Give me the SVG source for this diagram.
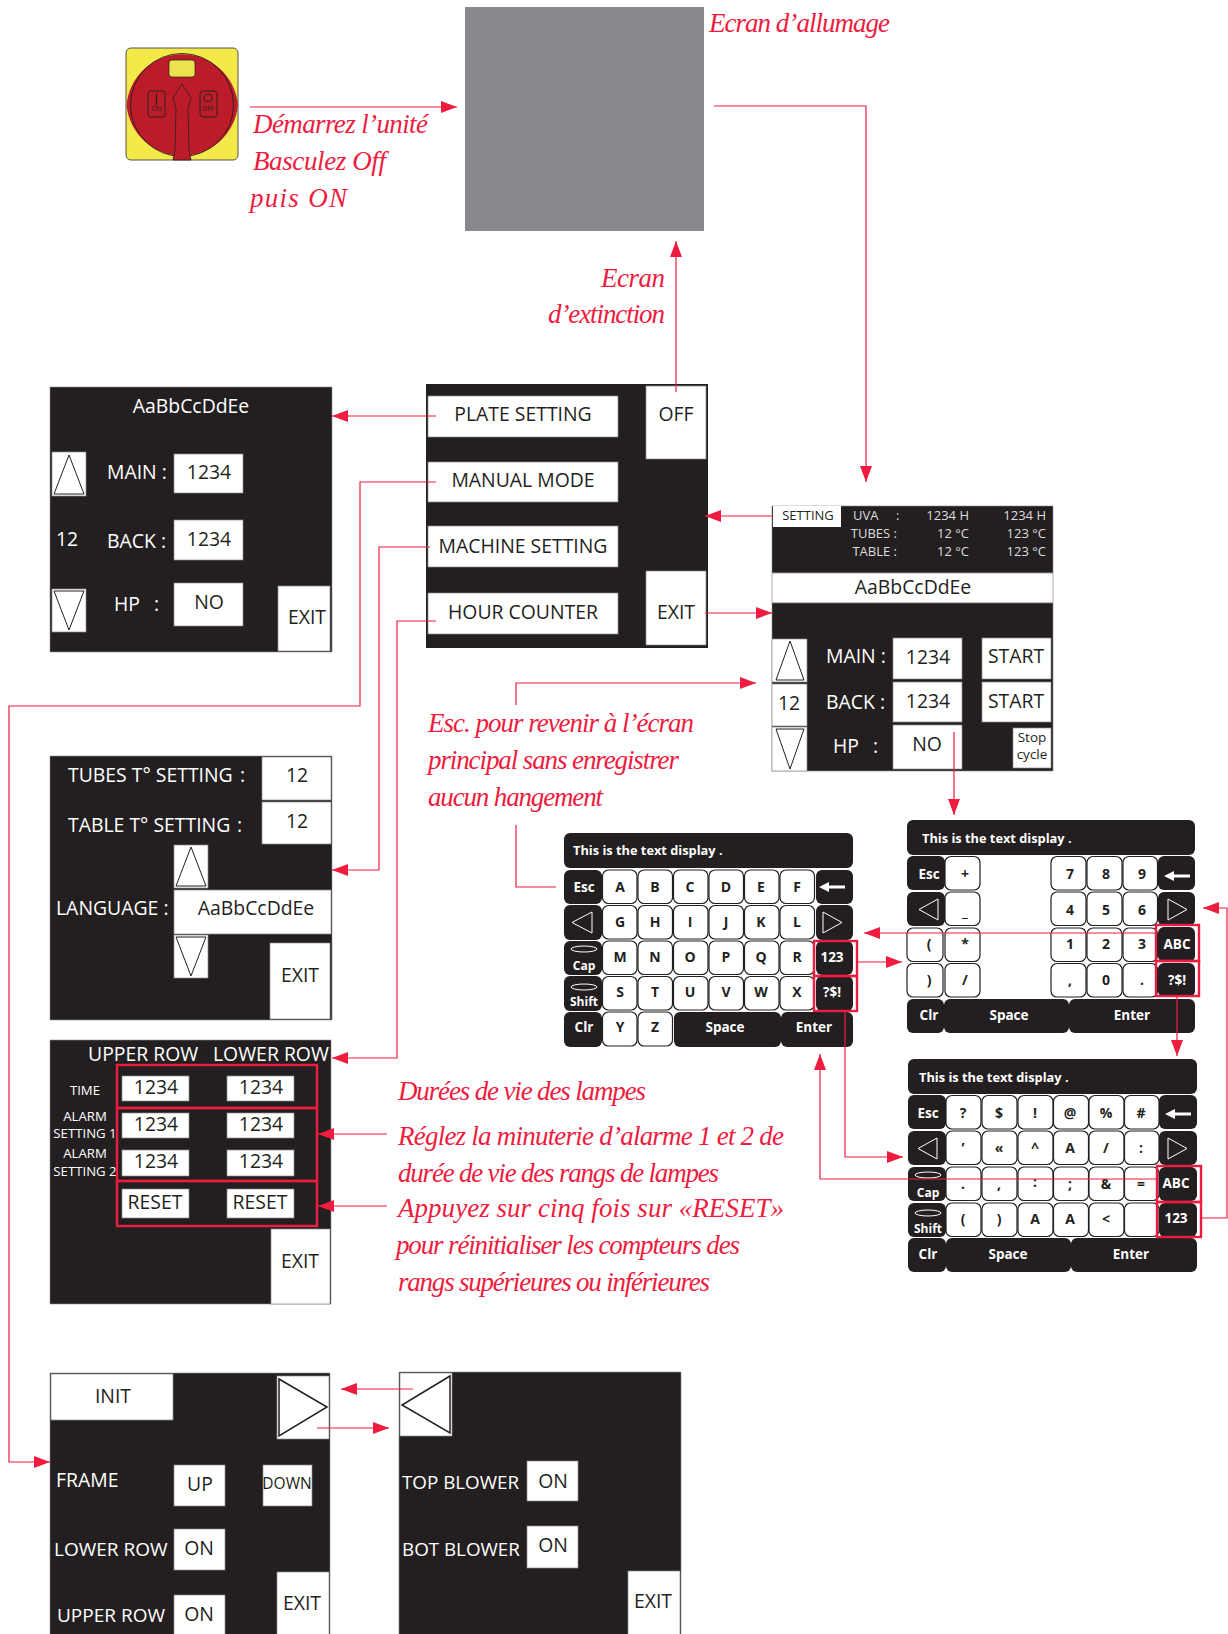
<svg xmlns="http://www.w3.org/2000/svg" width="1228" height="1634" viewBox="0 0 1228 1634">
<defs>
<style>
text{font-family:"Open Sans","Noto Sans","Liberation Sans",sans-serif}
.s{fill:#231f20;stroke:#8a8a8a;stroke-width:.6}
.w{fill:#fff;stroke:#8a8a8a;stroke-width:.7}
.tw{fill:#fff;font-size:19.400px;transform:translateY(-.6px)}
.tb{fill:#231f20;font-size:19.400px;text-anchor:middle;transform:translateY(-.6px)}
.tc{fill:#fff;font-size:19.400px;text-anchor:middle;transform:translateY(-.6px)}
.e{text-anchor:end}
.tri{fill:none;stroke:#231f20;stroke-width:1}
.script{font-family:"Liberation Serif",serif;font-style:italic;fill:#ee1c3e;font-size:27px}
.kb{fill:#231f20}
.kw{fill:#fff;stroke:#231f20;stroke-width:1.2}
.kt{font-size:14px;font-weight:700;fill:#231f20;text-anchor:middle}
.kl{font-size:13.500px;font-weight:700;fill:#fff;text-anchor:middle}
.kd{font-size:12.800px;font-weight:700;fill:#fff}
.ko{fill:none;stroke:#fff;stroke-width:1}
.r{fill:none;stroke:#ee1c3e;stroke-width:2.4}
.c{fill:none;stroke:#ee1c3e;stroke-width:1.2}
</style>
<marker id="a" markerUnits="userSpaceOnUse" markerWidth="17" markerHeight="12" refX="16" refY="6" orient="auto"><path d="M0 0L16 6L0 12Z" fill="#ee1c3e"/></marker>
</defs>
<rect width="1228" height="1634" fill="#fff"/>

<g id="switch">
<rect x="126" y="48" width="112" height="112" rx="5" fill="#f3ea4a" stroke="#555" stroke-width="1"/>
<path d="M126.500 105A56 56 0 0 1 238 105A56 56 0 0 1 126.500 105Z" fill="#bc1c29"/>
<circle cx="182" cy="105" r="51.500" fill="none" stroke="#231f20" stroke-width=".9"/>
<rect x="169" y="60" width="26" height="17" rx="3" fill="#eae34e" stroke="#231f20" stroke-width=".7"/>
<path d="M182 84L191 98L188 108L189 150L191 160H173L175 150L176 108L173 98Z" fill="#bc1c29" stroke="#231f20" stroke-width=".8"/>
<rect x="148" y="91" width="17" height="26" rx="3" fill="none" stroke="#231f20" stroke-width=".9"/>
<rect x="200" y="91" width="17" height="26" rx="3" fill="none" stroke="#231f20" stroke-width=".9"/>
<path d="M156.500 94V105" stroke="#231f20" stroke-width="1.200"/>
<circle cx="208" cy="98" r="4" fill="none" stroke="#231f20" stroke-width=".9"/>
<text x="156.500" y="111" text-anchor="middle" font-size="6.500" fill="#231f20">ON</text>
<text x="208" y="111" text-anchor="middle" font-size="6.500" fill="#231f20">OFF</text>
</g>

<g id="grey-screen"><rect x="465" y="7" width="239" height="224" fill="#87888b"/></g>

<g id="plate-setting">
<rect class="s" x="50" y="387" width="282" height="265"/>
<text class="tc" x="191" y="414">AaBbCcDdEe</text>
<rect class="w" x="52" y="452" width="34" height="44"/><path class="tri" d="M69 455L84 494H54Z"/>
<text class="tw" x="107" y="480">MAIN :</text>
<rect class="w" x="174" y="454" width="69" height="39"/><text class="tb" x="209" y="480">1234</text>
<text class="tw" x="56" y="547">12</text>
<text class="tw" x="107" y="549">BACK :</text>
<rect class="w" x="174" y="520" width="69" height="40"/><text class="tb" x="209" y="547">1234</text>
<rect class="w" x="52" y="589" width="34" height="43"/><path class="tri" d="M54 591H84L69 630Z"/>
<text class="tw" x="114" y="612">HP</text><text class="tw" x="154" y="612">:</text>
<rect class="w" x="174" y="583" width="69" height="43"/><text class="tb" x="209" y="610">NO</text>
<rect class="w" x="278" y="586" width="52" height="65"/><text class="tb" x="307" y="625">EXIT</text>
</g>

<g id="menu">
<rect x="427" y="385" width="280" height="262" fill="#231f20" stroke="#231f20" stroke-width="2"/>
<rect class="w" x="428" y="396" width="190" height="41"/><text class="tb" x="523" y="422">PLATE SETTING</text>
<rect class="w" x="428" y="462" width="190" height="40"/><text class="tb" x="523" y="488">MANUAL MODE</text>
<rect class="w" x="428" y="526" width="190" height="41"/><text class="tb" x="523" y="554">MACHINE SETTING</text>
<rect class="w" x="428" y="593" width="190" height="41"/><text class="tb" x="523" y="620">HOUR COUNTER</text>
<rect class="w" x="646" y="386" width="60" height="73"/><text class="tb" x="676" y="422">OFF</text>
<rect class="w" x="646" y="571" width="60" height="74"/><text class="tb" x="676" y="620">EXIT</text>
</g>

<g id="main-screen">
<rect class="s" x="772" y="506" width="281" height="67"/>
<rect x="773" y="506" width="68" height="21" fill="#fff"/><text x="808" y="520" font-size="13px" fill="#231f20" text-anchor="middle">SETTING</text>
<g font-size="13px" fill="#ddd">
<text x="853" y="520" fill="#ddd">UVA</text><text x="896" y="520" fill="#ddd">:</text>
<text class="e" x="897" y="538" fill="#ddd">TUBES :</text><text class="e" x="897" y="556" fill="#ddd">TABLE :</text>
<text class="e" x="969" y="520" fill="#ddd">1234 H</text><text class="e" x="969" y="538" fill="#ddd">12 °C</text><text class="e" x="969" y="556" fill="#ddd">12 °C</text>
<text class="e" x="1046" y="520" fill="#ddd">1234 H</text><text class="e" x="1046" y="538" fill="#ddd">123 °C</text><text class="e" x="1046" y="556" fill="#ddd">123 °C</text>
</g>
<rect class="w" x="772" y="573" width="281" height="30"/><text class="tb" x="913" y="595">AaBbCcDdEe</text>
<rect class="s" x="772" y="603" width="281" height="168"/>
<rect class="w" x="772" y="639" width="35" height="43"/><path class="tri" d="M790 641L804 680H776Z"/>
<rect class="w" x="772" y="684" width="35" height="42"/><text class="tb" x="789" y="711">12</text>
<rect class="w" x="772" y="727" width="35" height="44"/><path class="tri" d="M776 729H804L790 769Z"/>
<text class="tw" x="826" y="664">MAIN :</text><text class="tw" x="826" y="710">BACK :</text>
<text class="tw" x="833" y="754">HP</text><text class="tw" x="873" y="754">:</text>
<rect class="w" x="893" y="638" width="69" height="41"/><text class="tb" x="928" y="665">1234</text>
<rect class="w" x="893" y="682" width="69" height="40"/><text class="tb" x="928" y="709">1234</text>
<rect class="w" x="893" y="725" width="69" height="44"/><text class="tb" x="927" y="752">NO</text>
<rect class="w" x="982" y="638" width="69" height="41"/><text class="tb" x="1016" y="664">START</text>
<rect class="w" x="982" y="682" width="69" height="40"/><text class="tb" x="1016" y="709">START</text>
<rect class="w" x="1013" y="728" width="38" height="40"/><text class="tb" x="1032" y="743" style="font-size:13.500px">Stop</text><text class="tb" x="1032" y="760" style="font-size:13.500px">cycle</text>
</g>

<g id="language-screen">
<rect class="s" x="50" y="756" width="282" height="264"/>
<text class="tw" x="68" y="783">TUBES T° SETTING</text><text class="tw" x="240" y="783">:</text>
<rect class="w" x="262" y="757" width="69" height="43"/><text class="tb" x="297" y="783">12</text>
<text class="tw" x="68" y="833">TABLE T° SETTING</text><text class="tw" x="237" y="833">:</text>
<rect class="w" x="262" y="802" width="69" height="42"/><text class="tb" x="297" y="829">12</text>
<rect class="w" x="174" y="845" width="34" height="43"/><path class="tri" d="M191 847L206 886H176Z"/>
<text class="tw" x="56" y="916">LANGUAGE :</text>
<rect class="w" x="174" y="890" width="157" height="44"/><text class="tb" x="256" y="916">AaBbCcDdEe</text>
<rect class="w" x="174" y="935" width="34" height="43"/><path class="tri" d="M176 937H206L191 976Z"/>
<rect class="w" x="270" y="943" width="60" height="76"/><text class="tb" x="300" y="983">EXIT</text>
</g>

<g id="counter-screen">
<rect class="s" x="50" y="1040" width="281" height="264"/>
<text class="tw" x="88" y="1062">UPPER ROW</text><text class="tw" x="213" y="1062">LOWER ROW</text>
<text class="tc" style="font-size:13.200px" x="85" y="1096">TIME</text>
<text class="tc" style="font-size:13.200px" x="85" y="1122">ALARM</text><text class="tc" style="font-size:13.200px" x="85" y="1139">SETTING 1</text>
<text class="tc" style="font-size:13.200px" x="85" y="1159">ALARM</text><text class="tc" style="font-size:13.200px" x="85" y="1177">SETTING 2</text>
<rect class="w" x="122" y="1076" width="67" height="25"/><text class="tb" x="156" y="1095">1234</text>
<rect class="w" x="227" y="1076" width="67" height="25"/><text class="tb" x="261" y="1095">1234</text>
<rect class="w" x="122" y="1113" width="67" height="25"/><text class="tb" x="156" y="1132">1234</text>
<rect class="w" x="227" y="1113" width="67" height="25"/><text class="tb" x="261" y="1132">1234</text>
<rect class="w" x="122" y="1150" width="67" height="26"/><text class="tb" x="156" y="1169">1234</text>
<rect class="w" x="227" y="1150" width="67" height="26"/><text class="tb" x="261" y="1169">1234</text>
<rect class="w" x="122" y="1189" width="67" height="29"/><text class="tb" x="155" y="1210">RESET</text>
<rect class="w" x="227" y="1189" width="67" height="29"/><text class="tb" x="260" y="1210">RESET</text>
<rect class="w" x="271" y="1229" width="59" height="75"/><text class="tb" x="300" y="1269">EXIT</text>
<rect class="r" x="117" y="1065" width="200" height="43"/><rect class="r" x="117" y="1108" width="200" height="73"/><rect class="r" x="117" y="1181" width="200" height="45"/>
</g>

<g id="frame-screen">
<rect class="s" x="50" y="1373" width="280" height="270"/>
<rect class="w" x="51" y="1374" width="122" height="46"/><text class="tb" x="113" y="1404">INIT</text>
<rect class="w" x="277" y="1376" width="52" height="63"/><path class="tri" d="M279 1379L327 1407L279 1436Z" style="stroke-width:1.500"/>
<text class="tw" x="56" y="1488">FRAME</text>
<rect class="w" x="174" y="1465" width="51" height="41"/><text class="tb" x="200" y="1492">UP</text>
<rect class="w" x="263" y="1465" width="49" height="41"/><text class="tb" x="287" y="1490" style="font-size:15.500px">DOWN</text>
<text class="tw" x="54" y="1557" style="font-size:19px">LOWER ROW</text>
<rect class="w" x="174" y="1529" width="51" height="41"/><text class="tb" x="199" y="1556">ON</text>
<text class="tw" x="57" y="1623" style="font-size:19px">UPPER ROW</text>
<rect class="w" x="174" y="1595" width="51" height="42"/><text class="tb" x="199" y="1622">ON</text>
<rect class="w" x="277" y="1572" width="52" height="65"/><text class="tb" x="302" y="1611">EXIT</text>
</g>

<g id="blower-screen">
<rect class="s" x="399" y="1372" width="282" height="270"/>
<rect class="w" x="400" y="1373" width="52" height="63"/><path class="tri" d="M450 1376L402 1405L450 1433Z" style="stroke-width:1.500"/>
<text class="tw" x="402" y="1490" style="font-size:18.800px">TOP BLOWER</text>
<rect class="w" x="527" y="1461" width="51" height="40"/><text class="tb" x="553" y="1489">ON</text>
<text class="tw" x="402" y="1557" style="font-size:18.800px">BOT BLOWER</text>
<rect class="w" x="527" y="1526" width="51" height="42"/><text class="tb" x="553" y="1553">ON</text>
<rect class="w" x="628" y="1571" width="52" height="66"/><text class="tb" x="653" y="1609">EXIT</text>
</g>

<g id="keyboard-alpha">
<rect class="kb" x="564" y="833" width="289" height="35" rx="6"/><text class="kd" x="573" y="855">This is the text display .</text>
<g id="k1-black">
<rect class="kb" x="564" y="870" width="38" height="34" rx="6"/><rect class="kb" x="816" y="870" width="37" height="34" rx="6"/>
<rect class="kb" x="564" y="905" width="38" height="35" rx="6"/><rect class="kb" x="816" y="905" width="37" height="35" rx="6"/>
<rect class="kb" x="564" y="941" width="38" height="34" rx="6"/><rect class="kb" x="816" y="941" width="37" height="34" rx="6"/>
<rect class="kb" x="564" y="976" width="38" height="35" rx="6"/><rect class="kb" x="816" y="976" width="37" height="35" rx="6"/>
<rect class="kb" x="564" y="1012" width="38" height="35" rx="6"/><rect class="kb" x="674" y="1012" width="107" height="35" rx="6"/><rect class="kb" x="781" y="1012" width="72" height="35" rx="6"/>
</g>
<text class="kl" x="584" y="892">Esc</text><path d="M819 887L829 882V885.500H845V888.500H829V892Z" fill="#fff"/>
<path class="ko" d="M572 922.500L592 912V933Z M823 912L842 922.500L823 933Z"/>
<ellipse class="ko" cx="584" cy="949" rx="13" ry="3"/><text class="kl" style="font-size:12px" x="584" y="970">Cap</text>
<ellipse class="ko" cx="584" cy="987" rx="13" ry="3"/><text class="kl" style="font-size:12px" x="584" y="1006">Shift</text>
<text class="kl" x="584" y="1032">Clr</text><text class="kl" x="725" y="1032">Space</text><text class="kl" x="814" y="1032">Enter</text>
<text class="kl" x="832" y="962">123</text><text class="kl" x="832" y="997">?$!</text>
<rect class="kw" x="602.500" y="870" width="34.500" height="33.500" rx="6"/><rect class="kw" x="638" y="870" width="34.500" height="33.500" rx="6"/><rect class="kw" x="673.500" y="870" width="34.500" height="33.500" rx="6"/><rect class="kw" x="709" y="870" width="34.500" height="33.500" rx="6"/><rect class="kw" x="744.500" y="870" width="34.500" height="33.500" rx="6"/><rect class="kw" x="780" y="870" width="34.500" height="33.500" rx="6"/>
<rect class="kw" x="602.500" y="905.500" width="34.500" height="33.500" rx="6"/><rect class="kw" x="638" y="905.500" width="34.500" height="33.500" rx="6"/><rect class="kw" x="673.500" y="905.500" width="34.500" height="33.500" rx="6"/><rect class="kw" x="709" y="905.500" width="34.500" height="33.500" rx="6"/><rect class="kw" x="744.500" y="905.500" width="34.500" height="33.500" rx="6"/><rect class="kw" x="780" y="905.500" width="34.500" height="33.500" rx="6"/>
<rect class="kw" x="602.500" y="941" width="34.500" height="33.500" rx="6"/><rect class="kw" x="638" y="941" width="34.500" height="33.500" rx="6"/><rect class="kw" x="673.500" y="941" width="34.500" height="33.500" rx="6"/><rect class="kw" x="709" y="941" width="34.500" height="33.500" rx="6"/><rect class="kw" x="744.500" y="941" width="34.500" height="33.500" rx="6"/><rect class="kw" x="780" y="941" width="34.500" height="33.500" rx="6"/>
<rect class="kw" x="602.500" y="976.500" width="34.500" height="33.500" rx="6"/><rect class="kw" x="638" y="976.500" width="34.500" height="33.500" rx="6"/><rect class="kw" x="673.500" y="976.500" width="34.500" height="33.500" rx="6"/><rect class="kw" x="709" y="976.500" width="34.500" height="33.500" rx="6"/><rect class="kw" x="744.500" y="976.500" width="34.500" height="33.500" rx="6"/><rect class="kw" x="780" y="976.500" width="34.500" height="33.500" rx="6"/>
<rect class="kw" x="602.500" y="1012" width="34.500" height="34" rx="6"/><rect class="kw" x="638" y="1012" width="34.500" height="34" rx="6"/>
<text class="kt" x="620" y="892">A</text><text class="kt" x="655" y="892">B</text><text class="kt" x="690" y="892">C</text><text class="kt" x="726" y="892">D</text><text class="kt" x="761" y="892">E</text><text class="kt" x="797" y="892">F</text>
<text class="kt" x="620" y="927">G</text><text class="kt" x="655" y="927">H</text><text class="kt" x="690" y="927">I</text><text class="kt" x="726" y="927">J</text><text class="kt" x="761" y="927">K</text><text class="kt" x="797" y="927">L</text>
<text class="kt" x="620" y="962">M</text><text class="kt" x="655" y="962">N</text><text class="kt" x="690" y="962">O</text><text class="kt" x="726" y="962">P</text><text class="kt" x="761" y="962">Q</text><text class="kt" x="797" y="962">R</text>
<text class="kt" x="620" y="997">S</text><text class="kt" x="655" y="997">T</text><text class="kt" x="690" y="997">U</text><text class="kt" x="726" y="997">V</text><text class="kt" x="761" y="997">W</text><text class="kt" x="797" y="997">X</text>
<text class="kt" x="620" y="1032">Y</text><text class="kt" x="655" y="1032">Z</text>
<rect class="r" x="814" y="941" width="43" height="35"/><rect class="r" x="814" y="976" width="43" height="35"/>
</g>

<g id="keyboard-numeric">
<rect class="kb" x="907" y="820" width="288" height="35" rx="6"/><text class="kd" x="922" y="843">This is the text display .</text>
<rect class="kb" x="907" y="856" width="38" height="34" rx="6"/><rect class="kb" x="907" y="892" width="38" height="34" rx="6"/><rect class="kb" x="1158" y="856" width="37" height="34" rx="6"/><rect class="kb" x="1158" y="892" width="37" height="34" rx="6"/><rect class="kb" x="1158" y="927" width="37" height="35" rx="6"/><rect class="kb" x="1158" y="963" width="37" height="34" rx="6"/>
<rect class="kb" x="907" y="999" width="37" height="34" rx="6"/><rect class="kb" x="944" y="999" width="125" height="34" rx="6"/><rect class="kb" x="1069" y="999" width="126" height="34" rx="6"/>
<text class="kl" x="929" y="879">Esc</text><path d="M1164 876L1174 871V874.500H1190V877.500H1174V881Z" fill="#fff"/>
<path class="ko" d="M919 909.500L938 899V920Z M1168 899L1187 909.500L1168 920Z"/>
<text class="kl" x="929" y="1020">Clr</text><text class="kl" x="1009" y="1020">Space</text><text class="kl" x="1132" y="1020">Enter</text>
<text class="kl" x="1177" y="949">ABC</text><text class="kl" x="1177" y="985">?$!</text>
<rect class="kw" x="945" y="856.500" width="35" height="33.500" rx="6"/><rect class="kw" x="945" y="892" width="35" height="33.500" rx="6"/><rect class="kw" x="945" y="928" width="35" height="33.500" rx="6"/><rect class="kw" x="945" y="963.500" width="35" height="33.500" rx="6"/>
<rect class="kw" x="907" y="928" width="36" height="33.500" rx="6"/><rect class="kw" x="907" y="963.500" width="36" height="33.500" rx="6"/>
<rect class="kw" x="1051" y="856.500" width="35" height="33.500" rx="6"/><rect class="kw" x="1087" y="856.500" width="35" height="33.500" rx="6"/><rect class="kw" x="1123" y="856.500" width="34.500" height="33.500" rx="6"/>
<rect class="kw" x="1051" y="892" width="35" height="33.500" rx="6"/><rect class="kw" x="1087" y="892" width="35" height="33.500" rx="6"/><rect class="kw" x="1123" y="892" width="34.500" height="33.500" rx="6"/>
<rect class="kw" x="1051" y="928" width="35" height="33.500" rx="6"/><rect class="kw" x="1087" y="928" width="35" height="33.500" rx="6"/><rect class="kw" x="1123" y="928" width="34.500" height="33.500" rx="6"/>
<rect class="kw" x="1051" y="963.500" width="35" height="33.500" rx="6"/><rect class="kw" x="1087" y="963.500" width="35" height="33.500" rx="6"/><rect class="kw" x="1123" y="963.500" width="34.500" height="33.500" rx="6"/>
<text class="kt" x="965" y="879">+</text><text class="kt" x="965" y="917">_</text><text class="kt" x="965" y="949">*</text><text class="kt" x="965" y="985">/</text><text class="kt" x="929" y="949">(</text><text class="kt" x="929" y="985">)</text>
<text class="kt" x="1070" y="879">7</text><text class="kt" x="1106" y="879">8</text><text class="kt" x="1142" y="879">9</text>
<text class="kt" x="1070" y="915">4</text><text class="kt" x="1106" y="915">5</text><text class="kt" x="1142" y="915">6</text>
<text class="kt" x="1070" y="949">1</text><text class="kt" x="1106" y="949">2</text><text class="kt" x="1142" y="949">3</text>
<text class="kt" x="1070" y="985">,</text><text class="kt" x="1106" y="985">0</text><text class="kt" x="1142" y="985">.</text>
<rect class="r" x="1156" y="925" width="43" height="36"/><rect class="r" x="1156" y="961" width="43" height="35"/>
</g>

<g id="keyboard-symbols">
<rect class="kb" x="908" y="1059" width="289" height="35" rx="6"/><text class="kd" x="919" y="1082">This is the text display .</text>
<rect class="kb" x="908" y="1095" width="38" height="34" rx="6"/><rect class="kb" x="908" y="1131" width="38" height="34" rx="6"/><rect class="kb" x="908" y="1167" width="38" height="34" rx="6"/><rect class="kb" x="908" y="1203" width="38" height="34" rx="6"/>
<rect class="kb" x="1159" y="1095" width="38" height="34" rx="6"/><rect class="kb" x="1159" y="1131" width="38" height="34" rx="6"/><rect class="kb" x="1159" y="1167" width="38" height="34" rx="6"/><rect class="kb" x="1159" y="1203" width="38" height="34" rx="6"/>
<rect class="kb" x="908" y="1238" width="38" height="34" rx="6"/><rect class="kb" x="946" y="1238" width="125" height="34" rx="6"/><rect class="kb" x="1071" y="1238" width="126" height="34" rx="6"/>
<text class="kl" x="928" y="1118">Esc</text><path d="M1165 1114L1175 1109V1112.500H1191V1115.500H1175V1119Z" fill="#fff"/>
<path class="ko" d="M918 1148.500L937 1138V1159Z M1168 1138L1187 1148.500L1168 1159Z"/>
<ellipse class="ko" cx="928" cy="1175" rx="13" ry="3"/><text class="kl" style="font-size:12px" x="928" y="1197">Cap</text>
<ellipse class="ko" cx="928" cy="1213" rx="13" ry="3"/><text class="kl" style="font-size:12px" x="928" y="1233">Shift</text>
<text class="kl" x="928" y="1259">Clr</text><text class="kl" x="1008" y="1259">Space</text><text class="kl" x="1131" y="1259">Enter</text>
<text class="kl" x="1176" y="1188">ABC</text><text class="kl" x="1176" y="1223">123</text>
<rect class="kw" x="946" y="1095.500" width="35" height="33.500" rx="6"/><rect class="kw" x="982" y="1095.500" width="35" height="33.500" rx="6"/><rect class="kw" x="1018" y="1095.500" width="35" height="33.500" rx="6"/><rect class="kw" x="1053.500" y="1095.500" width="35" height="33.500" rx="6"/><rect class="kw" x="1089" y="1095.500" width="35" height="33.500" rx="6"/><rect class="kw" x="1124.500" y="1095.500" width="34.500" height="33.500" rx="6"/>
<rect class="kw" x="946" y="1131" width="35" height="33.500" rx="6"/><rect class="kw" x="982" y="1131" width="35" height="33.500" rx="6"/><rect class="kw" x="1018" y="1131" width="35" height="33.500" rx="6"/><rect class="kw" x="1053.500" y="1131" width="35" height="33.500" rx="6"/><rect class="kw" x="1089" y="1131" width="35" height="33.500" rx="6"/><rect class="kw" x="1124.500" y="1131" width="34.500" height="33.500" rx="6"/>
<rect class="kw" x="946" y="1167" width="35" height="33.500" rx="6"/><rect class="kw" x="982" y="1167" width="35" height="33.500" rx="6"/><rect class="kw" x="1018" y="1167" width="35" height="33.500" rx="6"/><rect class="kw" x="1053.500" y="1167" width="35" height="33.500" rx="6"/><rect class="kw" x="1089" y="1167" width="35" height="33.500" rx="6"/><rect class="kw" x="1124.500" y="1167" width="34.500" height="33.500" rx="6"/>
<rect class="kw" x="946" y="1203" width="35" height="33.500" rx="6"/><rect class="kw" x="982" y="1203" width="35" height="33.500" rx="6"/><rect class="kw" x="1018" y="1203" width="35" height="33.500" rx="6"/><rect class="kw" x="1053.500" y="1203" width="35" height="33.500" rx="6"/><rect class="kw" x="1089" y="1203" width="35" height="33.500" rx="6"/><rect class="kw" x="1124.500" y="1203" width="34.500" height="33.500" rx="6"/>
<text class="kt" x="963" y="1118">?</text><text class="kt" x="999" y="1118">$</text><text class="kt" x="1035" y="1118">!</text><text class="kt" x="1070" y="1118">@</text><text class="kt" x="1106" y="1118">%</text><text class="kt" x="1141" y="1118">#</text>
<text class="kt" x="963" y="1153">’</text><text class="kt" x="999" y="1153">«</text><text class="kt" x="1035" y="1153">^</text><text class="kt" x="1070" y="1153">A</text><text class="kt" x="1106" y="1153">/</text><text class="kt" x="1141" y="1153">:</text>
<text class="kt" x="963" y="1189">.</text><text class="kt" x="999" y="1189">,</text><text class="kt" x="1035" y="1187">:</text><text class="kt" x="1070" y="1189">;</text><text class="kt" x="1106" y="1189">&amp;</text><text class="kt" x="1141" y="1189">=</text>
<text class="kt" x="963" y="1224">(</text><text class="kt" x="999" y="1224">)</text><text class="kt" x="1035" y="1224">A</text><text class="kt" x="1070" y="1224">A</text><text class="kt" x="1106" y="1224">&lt;</text>
<rect class="r" x="1157" y="1166" width="44" height="36"/><rect class="r" x="1157" y="1202" width="44" height="35"/>
</g>

<g id="labels">
<text class="script" x="709" y="32" textLength="181">Ecran d’allumage</text>
<text class="script" x="253" y="133" textLength="175">Démarrez l’unité</text>
<text class="script" x="253" y="170" textLength="133">Basculez Off</text>
<text class="script" x="250" y="207" textLength="97">puis ON</text>
<text class="script" x="601" y="287" textLength="64">Ecran</text>
<text class="script" x="548" y="323" textLength="117">d’extinction</text>
<text class="script" x="428" y="732" textLength="266">Esc. pour revenir à l’écran</text>
<text class="script" x="428" y="769" textLength="251">principal sans enregistrer</text>
<text class="script" x="428" y="806" textLength="175">aucun hangement</text>
<text class="script" x="398" y="1100" textLength="248">Durées de vie des lampes</text>
<text class="script" x="398" y="1145" textLength="386">Réglez la minuterie d’alarme 1 et 2 de</text>
<text class="script" x="398" y="1182" textLength="321">durée de vie des rangs de lampes</text>
<text class="script" x="398" y="1217" textLength="386">Appuyez sur cinq fois sur «RESET»</text>
<text class="script" x="396" y="1254" textLength="344">pour réinitialiser les compteurs des</text>
<text class="script" x="398" y="1291" textLength="312">rangs supérieures ou inférieures</text>
</g>

<g id="connectors">
<path class="c" d="M250 107H457" marker-end="url(#a)"/>
<path class="c" d="M714 106H866V482" marker-end="url(#a)"/>
<path class="c" d="M676 392V241" marker-end="url(#a)"/>
<path class="c" d="M436 416H332" marker-end="url(#a)"/>
<path class="c" d="M436 482H360V706H9V1462H50" marker-end="url(#a)"/>
<path class="c" d="M430 547H379V870H332" marker-end="url(#a)"/>
<path class="c" d="M436 621H397V1058H332" marker-end="url(#a)"/>
<path class="c" d="M773 516H705" marker-end="url(#a)"/>
<path class="c" d="M705 613H772" marker-end="url(#a)"/>
<path class="c" d="M516 705V683H756" marker-end="url(#a)"/>
<path class="c" d="M516 825V887H556"/>
<path class="c" d="M954 732V815" marker-end="url(#a)"/>
<path class="c" d="M857 962H902" marker-end="url(#a)"/>
<path class="c" d="M1156 933H864" marker-end="url(#a)"/>
<path class="c" d="M1177 996V1056" marker-end="url(#a)"/>
<path class="c" d="M1201 1218H1227V908H1203" marker-end="url(#a)"/>
<path class="c" d="M1157 1179H820V1054" marker-end="url(#a)"/>
<path class="c" d="M845 1011V1157H903" marker-end="url(#a)"/>
<path class="c" d="M387 1134H318" marker-end="url(#a)"/>
<path class="c" d="M387 1206H318" marker-end="url(#a)"/>
<path class="c" d="M413 1389H341" marker-end="url(#a)"/>
<path class="c" d="M317 1428H389" marker-end="url(#a)"/>
</g>
</svg>
